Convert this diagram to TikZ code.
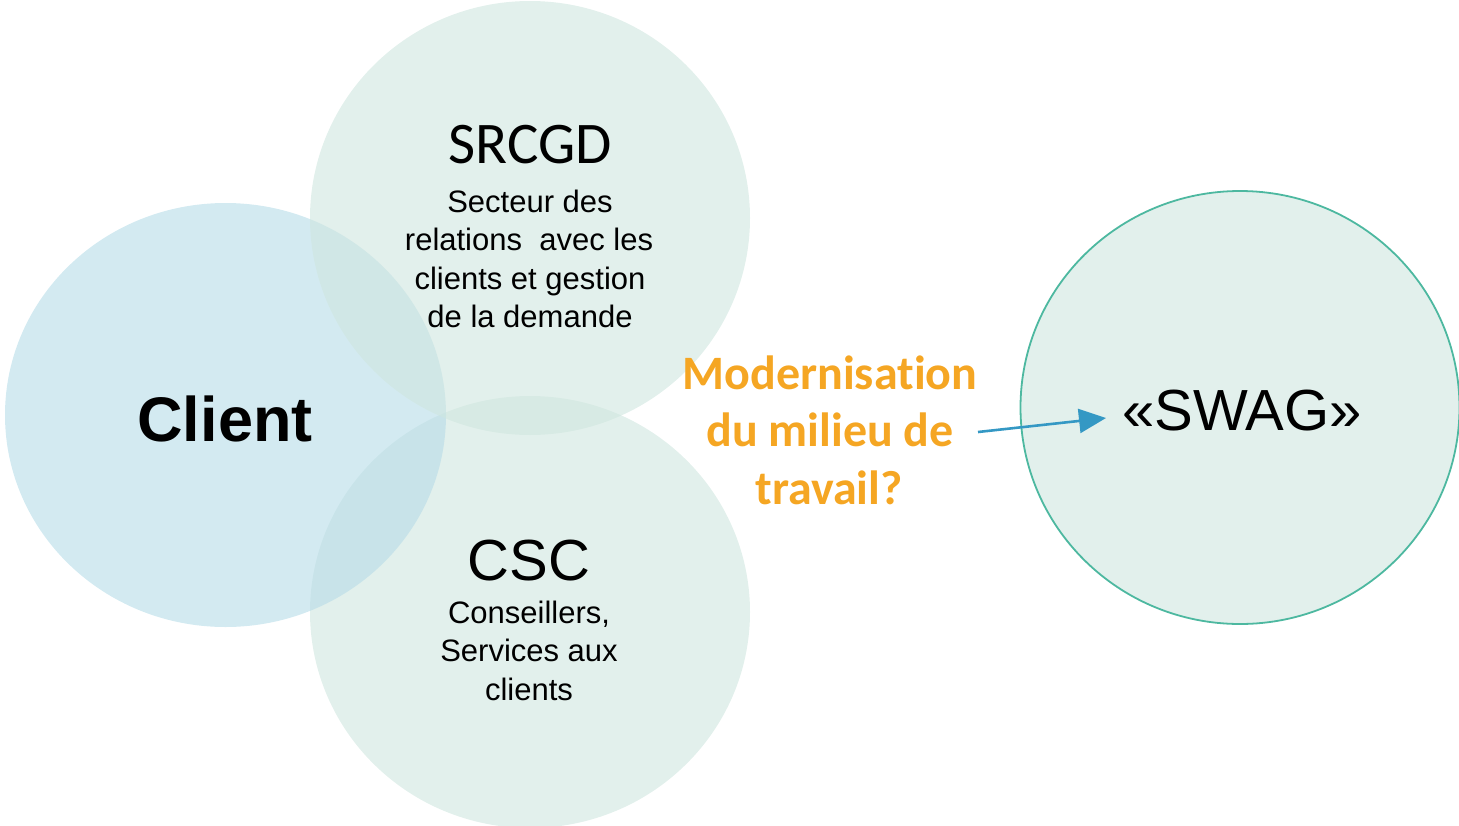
\documentclass[tikz,border=0pt]{standalone}
\usepackage{fontspec}
\setmainfont{Liberation Sans}
\newfontfamily\calfont[Ligatures={NoCommon,NoRare}]{Carlito}
\usetikzlibrary{arrows.meta}
\definecolor{grn}{RGB}{207,230,223}
\definecolor{blu}{RGB}{182,220,232}
\definecolor{grnsolid}{RGB}{226,240,236}
\definecolor{teal}{RGB}{77,184,160}
\definecolor{orng}{RGB}{245,166,35}
\definecolor{arrblue}{RGB}{52,152,196}
\tikzset{
  venn/.style={fill opacity=0.6},
  bodytxt/.style={anchor=base, inner sep=0pt, font=\fontsize{31}{31}\selectfont},
  titletxt/.style={anchor=base, inner sep=0pt, font=\fontsize{58}{58}\selectfont},
  orangetxt/.style={anchor=base, inner sep=0pt, text=orng, font=\calfont\bfseries\fontsize{48}{48}\selectfont},
  arrowline/.style={draw=arrblue, line width=2.6pt, -{Triangle[length=27pt,width=24pt]}}
}
\begin{document}
\begin{tikzpicture}[x=1pt,y=-1pt]
\useasboundingbox (0,0) rectangle (1459,825);
% circles
\fill[grn,venn] (530,612) ellipse [x radius=220, y radius=216];
\fill[blu,venn] (225.5,415) ellipse [x radius=220.5, y radius=212];
\fill[grn,venn] (530,218) ellipse [x radius=220, y radius=217];
\filldraw[fill=grnsolid, draw=teal, line width=1.8pt] (1240,407.5) ellipse [x radius=219.5, y radius=216.5];
% SRCGD
\node[titletxt, font=\calfont\fontsize{59}{59}\selectfont] (srcgd) at (530,163) {SRCGD};
\node[bodytxt] (s1) at (530,212) {Secteur des};
\node[bodytxt] (s2) at (529,250.5) {relations\ \ avec les};
\node[bodytxt] (s3) at (530,289) {clients et gestion};
\node[bodytxt] (s4) at (530,327.5) {de la demande};
% Client
\node[anchor=base, inner sep=0pt, font=\bfseries\fontsize{63}{63}\selectfont] (client) at (225,441) {Client};
% CSC
\node[titletxt] (csc) at (529,580) {CSC};
\node[bodytxt] (c1) at (529,623) {Conseillers,};
\node[bodytxt] (c2) at (529,661.5) {Services aux};
\node[bodytxt] (c3) at (529,700) {clients};
% SWAG
\node[titletxt] (swag) at (1242,430) {«SWAG»};
% orange question
\node[orangetxt] (m1) at (830,389) {Modernisation};
\node[orangetxt] (m2) at (830,446.5) {du milieu de};
\node[orangetxt] (m3) at (829,504) {travail?};
% arrow
\coordinate (astart) at (978,432);
\coordinate (aend) at (1106,418);
\draw[arrowline] (astart) -- (aend);
\end{tikzpicture}
\end{document}
